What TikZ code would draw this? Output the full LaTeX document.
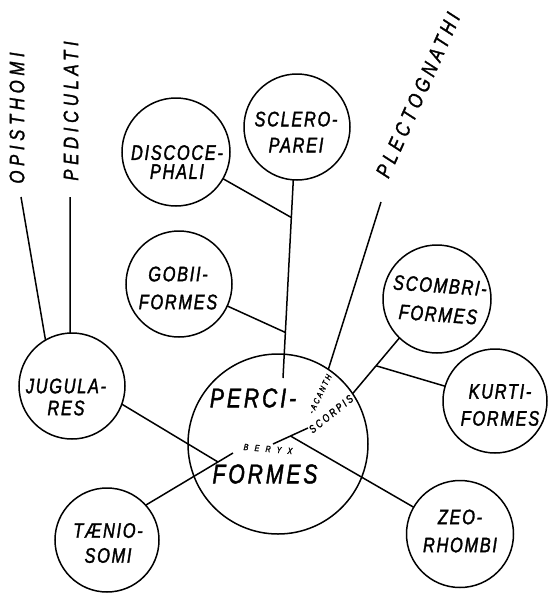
\documentclass[tikz,border=0pt]{standalone}
\usepackage{fontspec}
\usetikzlibrary{calc}
\newfontfamily\lett[FakeStretch=0.78,LetterSpace=8,FakeBold=1.6]{Liberation Sans}
\newfontfamily\lettw[FakeStretch=0.8,LetterSpace=22,FakeBold=1.4]{Liberation Sans}
\tikzset{
  taxon/.style={circle, draw, line width=1.5pt, inner sep=0pt, outer sep=0pt, minimum size=#1},
  lab/.style={font={\lett\itshape\fontsize{21}{#1}\selectfont}, align=center, inner sep=0pt},
  lab/.default=26,
  biglab/.style={font={\lett\itshape\fontsize{27}{30}\selectfont\addfontfeatures{LetterSpace=11}}, inner sep=0pt},
  rotlab/.style={font={\lettw\itshape\fontsize{21}{24}\selectfont}, inner sep=0pt},
  link/.style={line width=1.5pt},
}
\begin{document}
\begin{tikzpicture}[x=1pt,y=-1pt]
\useasboundingbox (0,0) rectangle (548,598);
% circles
\node[taxon=180] (perci) at (278,444) {};
\node[taxon=106] (scler) at (297,127) {};
\node[taxon=108] (disc)  at (176,152) {};
\node[taxon=106] (gobi)  at (179,284) {};
\node[taxon=108] (scomb) at (437,299) {};
\node[taxon=104] (kurt)  at (495,401) {};
\node[taxon=107] (zeo)   at (460,534) {};
\node[taxon=104] (taen)  at (107,540) {};
\node[taxon=106] (jug)   at (72,386) {};
% labels in circles
\node[lab=19] (discT)  at (177,162) {DISCOCE-\\PHALI};
\node[lab=26] (sclerT) at (296,132) {SCLERO-\\PAREI};
\node[lab=28] (gobiT)  at (178,288) {GOBII-\\FORMES};
\node[lab=29, rotate=-4] (scombT) at (439,300) {SCOMBRI-\\FORMES};
\node[lab=27] (kurtT)  at (500,405) {KURTI-\\FORMES};
\node[lab=28] (zeoT)   at (460,531) {ZEO-\\RHOMBI};
\node[lab=22] (jugT)   at (66,397)  {JUGULA-\\RES};
\node[lab=25] (taenT)  at (108,543) {TÆNIO-\\SOMI};
\node[biglab] (perciT) at (253,398) {PERCI-};
\node[biglab] (formT)  at (265,474) {FORMES};
% small labels inside Perciformes
\node[inner sep=0pt, rotate=-5, font={\lett\itshape\fontsize{9}{10}\selectfont\addfontfeatures{LetterSpace=70}}] (beryx) at (268,449) {BERYX};
\node[inner sep=0pt, rotate=39, font={\lett\itshape\fontsize{11}{12}\selectfont\addfontfeatures{LetterSpace=22}}] (scorp) at (331,414) {SCORPIS};
\node[inner sep=0pt, rotate=64, font={\lett\itshape\fontsize{8.5}{10}\selectfont\addfontfeatures{LetterSpace=25}}] (acanth) at (320,394) {-ACANTH};
% outer labels
\node[rotlab, rotate=90] (opist) at (17,118) {OPISTHOMI};
\node[rotlab, rotate=90] (pedic) at (71,111) {PEDICULATI};
\node[rotlab, rotate=66, font={\lettw\itshape\fontsize{21}{24}\selectfont\addfontfeatures{LetterSpace=21}}] (plect) at (418,95) {PLECTOGNATHI};
% coordinates
\coordinate (opTop) at (21,197);
\coordinate (peTop) at (70,197);
\coordinate (plTop) at (381,202);
\coordinate (scEnd) at (283,378);
\coordinate (j1) at ($(scler.266)!0.19!(scEnd)$);
\coordinate (j2) at ($(scler.266)!0.77!(scEnd)$);
\coordinate (k) at ($(scomb.226)!0.5!(perci.34)$);
\coordinate (sA) at (273,444);
\coordinate (sB) at (308,428);
\coordinate (zA) at ($(sA)!0.5!(sB)$);
\coordinate (tEnd) at (233,453);
\coordinate (jEnd) at (218,462);
% connectors
\draw[link] (opTop) -- (jug.120);
\draw[link] (peTop) -- (jug.92);
\draw[link] (plTop) -- (perci.56);
\draw[link] (scler.266) -- (scEnd);
\draw[link] (disc) -- (j1);
\draw[link] (gobi) -- (j2);
\draw[link] (scomb.226) -- (perci.34);
\draw[link] (k) -- (kurt);
\draw[link] (sA) -- (sB);
\draw[link] (zA) -- (zeo);
\draw[link] (taen.42) -- (tEnd);
\draw[link] (jug.-20) -- (jEnd);
\end{tikzpicture}
\end{document}
